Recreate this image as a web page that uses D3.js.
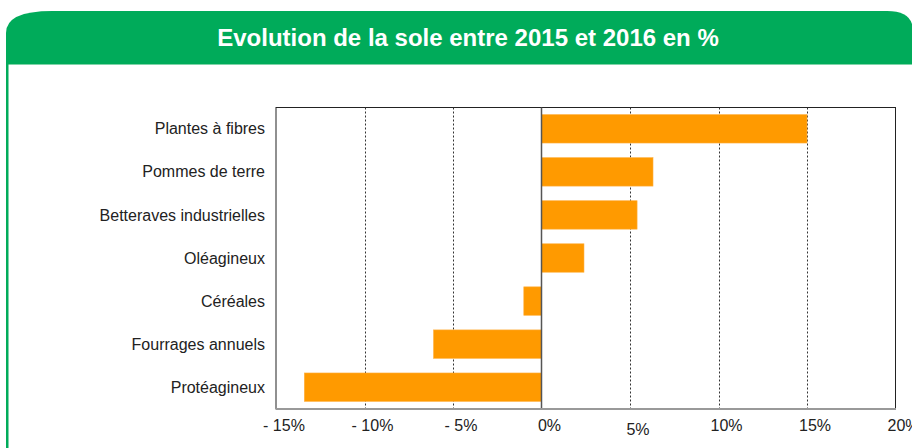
<!DOCTYPE html>
<html lang="fr">
<head>
<meta charset="utf-8">
<title>Evolution de la sole</title>
<style>
  body { margin: 0; background: #fff; }
  svg { display: block; font-family: 'Liberation Sans', Arial, sans-serif; }
</style>
<script src="https://d3js.org/d3.v7.min.js"></script>
</head>
<body>
<svg id="chart" width="912" height="448"></svg>
<script>
// data
var titre = "Evolution de la sole entre 2015 et 2016 en %";
var cultures = ["Plantes à fibres", "Pommes de terre", "Betteraves industrielles",
                "Oléagineux", "Céréales", "Fourrages annuels", "Protéagineux"];
var evolution = [15.0, 6.3, 5.4, 2.4, -1.0, -6.1, -13.4];
var ticks = [-15, -10, -5, 0, 5, 10, 15, 20];
var tickLabels = ["- 15%", "- 10%", "- 5%", "0%", "5%", "10%", "15%", "20%"];

var svg = d3.select("#chart");
var vert = "#00ab5a";

// header with rounded top corners
var hx0 = 6, hx1 = 913, hy0 = 11, hy1 = 64;
svg.append("path")
  .attr("d", "M" + hx0 + " " + hy1 +
    " L" + hx0 + " " + (hy0 + 22) +
    " Q" + hx0 + " " + hy0 + " " + (hx0 + 46) + " " + hy0 +
    " L" + (hx1 - 26) + " " + hy0 +
    " Q" + hx1 + " " + hy0 + " " + hx1 + " " + (hy0 + 20) +
    " L" + hx1 + " " + hy1 + " Z")
  .attr("fill", vert);
svg.append("line")
  .attr("x1", hx0).attr("x2", hx1).attr("y1", hy1 + 0.5).attr("y2", hy1 + 0.5)
  .attr("stroke", "#7fd4a8").attr("stroke-width", 1);
svg.append("rect")
  .attr("x", 6).attr("y", hy1).attr("width", 2.5).attr("height", 448 - hy1)
  .attr("fill", vert);

svg.append("text")
  .attr("x", 468).attr("y", 46)
  .attr("text-anchor", "middle")
  .attr("fill", "#fff")
  .attr("font-weight", "bold")
  .attr("font-size", "24px")
  .text(titre);

// plot area
var pLeft = 276, pRight = 895.5, pTop = 107.5, pBottom = 408.5;
var x = d3.scaleLinear().domain([-15, 20]).range([pLeft, pRight]);
var y = d3.scaleBand().domain(cultures).range([pTop, pBottom])
  .paddingInner(0.34).paddingOuter(0.165);

// frame
svg.append("rect")
  .attr("x", pLeft).attr("y", pTop).attr("width", pRight - pLeft).attr("height", pBottom - pTop)
  .attr("fill", "none").attr("stroke", "#222").attr("stroke-width", 1);

// dotted grid
svg.append("g").selectAll("line")
  .data(ticks.filter(function(t) { return t !== 0 && t !== -15 && t !== 20; }))
  .join("line")
  .attr("x1", function(d) { return Math.round(x(d)) + 0.5; })
  .attr("x2", function(d) { return Math.round(x(d)) + 0.5; })
  .attr("y1", pTop).attr("y2", pBottom + 2)
  .attr("stroke", "#333").attr("stroke-width", 1)
  .attr("stroke-dasharray", "2,2");

// bars
svg.append("g").selectAll("rect")
  .data(evolution)
  .join("rect")
  .attr("x", function(d) { return x(Math.min(0, d)); })
  .attr("y", function(d, i) { return y(cultures[i]); })
  .attr("width", function(d) { return Math.abs(x(d) - x(0)); })
  .attr("height", y.bandwidth())
  .attr("fill", "#ff9a00")
  .attr("stroke", "#ffb040").attr("stroke-width", 0.6);

// zero line
svg.append("line")
  .attr("x1", x(0)).attr("x2", x(0)).attr("y1", pTop).attr("y2", pBottom)
  .attr("stroke", "#555").attr("stroke-width", 1.5);

// bottom axis line
svg.append("line")
  .attr("x1", pLeft - 0.5).attr("x2", pRight + 0.5).attr("y1", pBottom + 0.5).attr("y2", pBottom + 0.5)
  .attr("stroke", "#999").attr("stroke-width", 2);

// category labels
svg.append("g").selectAll("text")
  .data(cultures)
  .join("text")
  .attr("x", 265)
  .attr("y", function(d) { return y(d) + y.bandwidth() / 2; })
  .attr("dy", "0.35em")
  .attr("text-anchor", "end")
  .attr("font-size", "16px")
  .attr("fill", "#222")
  .text(function(d) { return d; });

// tick labels
svg.append("g").selectAll("text")
  .data(ticks)
  .join("text")
  .attr("x", function(d) { return x(d) + 8; })
  .attr("y", function(d) { return d === 5 ? 435 : 431; })
  .attr("text-anchor", "middle")
  .attr("font-size", "16px")
  .attr("fill", "#222")
  .text(function(d, i) { return tickLabels[i]; });
</script>
</body>
</html>
